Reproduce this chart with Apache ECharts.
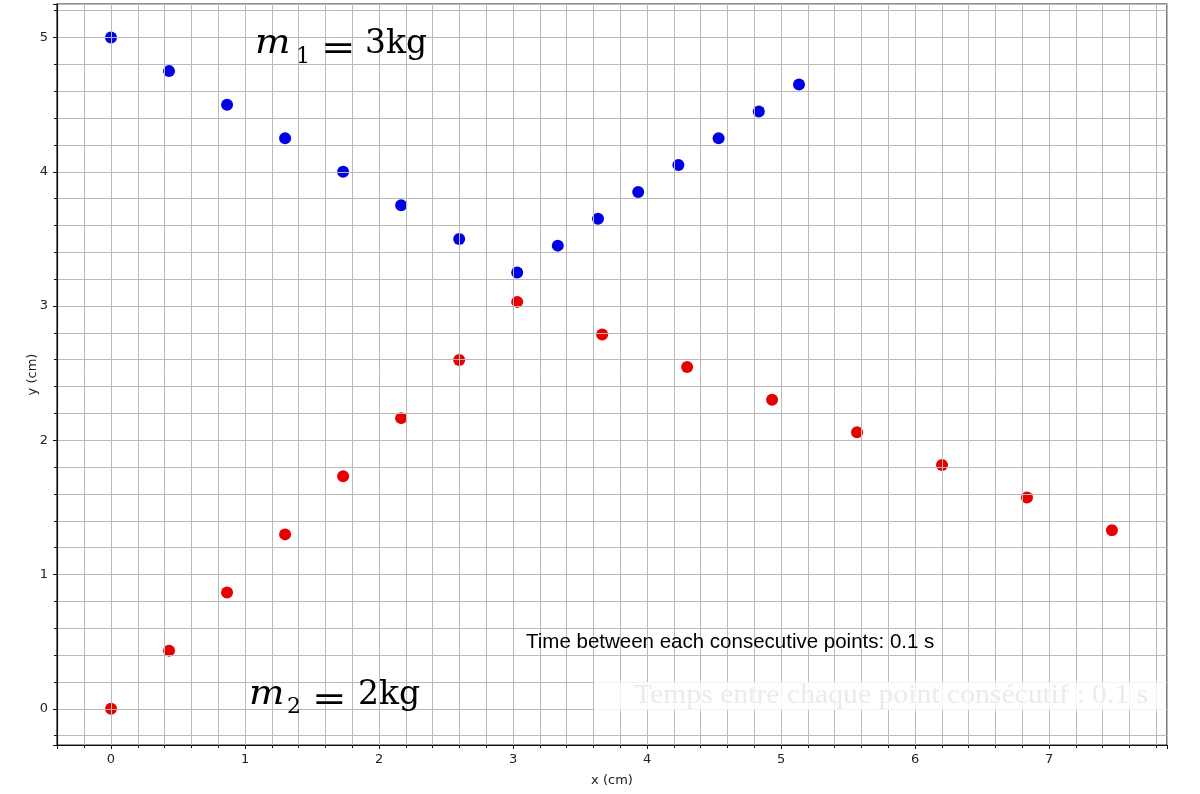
<!DOCTYPE html>
<html>
<head>
<meta charset="utf-8">
<script src="https://cdn.jsdelivr.net/npm/echarts@6/dist/echarts.min.js"></script>
<style>html,body{margin:0;padding:0;background:#fff;}#c{width:1200px;height:794px;}</style>
</head>
<body>
<div id="c"></div>
<script>
// Mass 1 (blue) positions
const m1X = [0, 0.433, 0.866, 1.299, 1.732, 2.165, 2.598, 3.031, 3.334, 3.634, 3.934, 4.234, 4.534, 4.834, 5.134];
const m1Y = [5, 4.75, 4.5, 4.25, 4, 3.75, 3.5, 3.25, 3.45, 3.65, 3.85, 4.05, 4.25, 4.45, 4.65];
// Mass 2 (red) positions
const m2X = [0, 0.433, 0.866, 1.299, 1.732, 2.165, 2.598, 3.031, 3.665, 4.299, 4.933, 5.567, 6.201, 6.835, 7.469];
const m2Y = [0, 0.433, 0.866, 1.299, 1.732, 2.165, 2.598, 3.031, 2.788, 2.545, 2.302, 2.059, 1.816, 1.573, 1.33];
const xTickLabels = ['0', '1', '2', '3', '4', '5', '6', '7'];
const yTickLabels = ['0', '1', '2', '3', '4', '5'];
const xRange = [-0.403, 7.88];
const yRange = [-0.27, 5.25];

const pts = (xs, ys) => xs.map((x, i) => [x, ys[i]]);
const gridColor = '#b9b9b9';
const intFmt = labels => v => {
  const r = Math.round(v);
  return (Math.abs(v - r) < 1e-6 && labels.indexOf(String(r)) >= 0) ? String(r) : '';
};

const chart = echarts.init(document.getElementById('c'), null, {renderer: 'canvas'});
const axisCommon = {
  type: 'value',
  minInterval: 1, maxInterval: 1,
  axisLine: {show: true, onZero: false, lineStyle: {color: '#111', width: 1.2}},
  axisTick: {show: true, length: 4, lineStyle: {color: '#111'}},
  minorTick: {show: true, splitNumber: 5, length: 3, lineStyle: {color: '#111'}},
  splitLine: {show: true, lineStyle: {color: gridColor, width: 1}},
  minorSplitLine: {show: true, lineStyle: {color: gridColor, width: 1}},
  nameMoveOverlap: false,
  nameTextStyle: {fontFamily: 'DejaVu Sans', fontSize: 13, color: '#222'}
};
const serif = 'DejaVu Serif';
const txt = (x, y, s, font, fill, scaleX) => ({
  type: 'text', z: 51, x: x, y: y, scaleX: scaleX || 1,
  style: {text: s, font: font, fill: fill || '#000', verticalAlign: 'middle', align: 'left'}
});
chart.setOption({
  animation: false,
  backgroundColor: '#fff',
  grid: {left: 57, right: 33, top: 4, bottom: 49, show: true, borderColor: '#222', borderWidth: 1.2, backgroundColor: 'transparent'},
  xAxis: Object.assign({}, axisCommon, {
    min: xRange[0], max: xRange[1], splitNumber: 8,
    name: 'x (cm)', nameLocation: 'middle', nameGap: 29,
    axisLabel: {formatter: intFmt(xTickLabels), fontFamily: 'DejaVu Sans', fontSize: 13, color: '#222', margin: 8}
  }),
  yAxis: Object.assign({}, axisCommon, {
    min: yRange[0], max: yRange[1], splitNumber: 5,
    name: 'y (cm)', nameLocation: 'middle', nameGap: 18,
    axisLabel: {formatter: intFmt(yTickLabels), fontFamily: 'DejaVu Sans', fontSize: 13, color: '#222', margin: 9}
  }),
  series: [
    {type: 'scatter', name: 'm1', data: pts(m1X, m1Y), symbol: 'circle', symbolSize: 12, z: -1,
     itemStyle: {color: '#0000e8', opacity: 1}},
    {type: 'scatter', name: 'm2', data: pts(m2X, m2Y), symbol: 'circle', symbolSize: 12, z: -1,
     itemStyle: {color: '#e80000', opacity: 1}}
  ],
  graphic: [
    {type: 'rect', z: 50, shape: {x: 594, y: 682, width: 572, height: 28},
     style: {fill: 'rgba(255,255,255,0.82)'}},
    txt(634, 696, 'Temps entre chaque point consécutif : 0.1 s', '27px "Liberation Serif"', '#ebebeb', 1.1),
    txt(526, 642, 'Time between each consecutive points: 0.1 s', '20.5px "Liberation Sans"'),
    // m1 = 3kg
    txt(255, 44.6, 'm', 'italic 34px "' + serif + '"', '#000', 1.1),
    txt(296, 57.4, '1', '22px "' + serif + '"'),
    txt(321, 50, '=', '33px "' + serif + '"', '#000', 1.25),
    txt(365, 44.6, '3kg', '33px "' + serif + '"'),
    // m2 = 2kg
    txt(249, 695.6, 'm', 'italic 34px "' + serif + '"', '#000', 1.1),
    txt(287, 707.4, '2', '22px "' + serif + '"'),
    txt(312, 701, '=', '33px "' + serif + '"', '#000', 1.25),
    txt(358, 695.6, '2kg', '33px "' + serif + '"')
  ]
});
</script>
</body>
</html>
